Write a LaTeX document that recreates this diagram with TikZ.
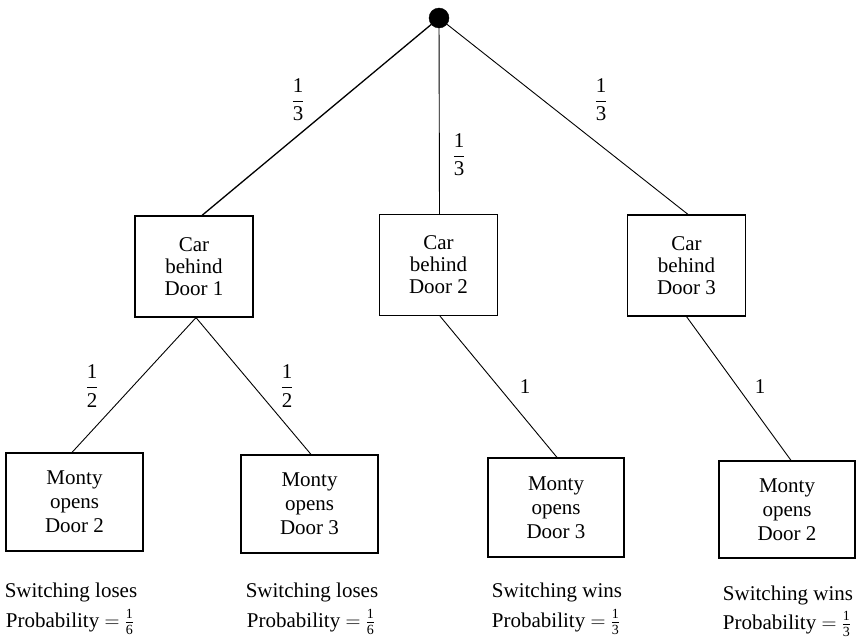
\documentclass[tikz,border=0pt]{standalone}
\usepackage{fontspec}
\setmainfont{Liberation Serif}
\newfontfamily\tms{Liberation Serif}
\newcommand\bigfr[2]{$\displaystyle\frac{\mbox{\tms #1}}{\mbox{\tms #2}}$}
\newcommand\smfr[2]{\ensuremath{\frac{\mbox{\tms\fontsize{14}{14}\selectfont #1}}{\mbox{\tms\fontsize{14}{14}\selectfont #2}}}}
\begin{document}
\begin{tikzpicture}[x=1pt,y=-1pt,
  every node/.style={font=\tms\fontsize{21}{22}\selectfont},
  carbox/.style={draw,line width=1.2pt,minimum width=118pt,minimum height=101pt,inner sep=0pt,align=center,font=\tms\fontsize{21}{22}\selectfont},
  montybox/.style={draw,line width=1.2pt,minimum width=137pt,minimum height=98pt,inner sep=0pt,align=center,font=\tms\fontsize{21}{24}\selectfont},
  edge/.style={line width=0.9pt},
  lbl/.style={inner sep=0pt},
  res/.style={anchor=base,inner sep=0pt}]
\useasboundingbox (0,0) rectangle (856,640);
\node[circle,fill=black,draw=black,minimum size=20pt,inner sep=0pt] (root) at (439,18) {};
\node[carbox] (c1) at (194,266.5) {Car\\behind\\Door 1};
\node[carbox] (c2) at (438.5,265) {Car\\behind\\Door 2};
\node[carbox] (c3) at (686.5,265.5) {Car\\behind\\Door 3};
\node[montybox] (m1) at (74.5,502) {Monty\\opens\\Door 2};
\node[montybox] (m2) at (309.5,504) {Monty\\opens\\Door 3};
\node[montybox,minimum width=136pt,minimum height=99pt] (m3) at (556,507.5) {Monty\\opens\\Door 3};
\node[montybox,minimum width=136pt,minimum height=97pt] (m4) at (787,509.5) {Monty\\opens\\Door 2};
\draw[edge,line width=1.3pt] (root) -- ([xshift=8pt]c1.north);
\draw[edge] (root) -- ([xshift=1pt]c2.north);
\draw[edge] (root) -- ([xshift=1.5pt]c3.north);
\draw[edge] ([xshift=2pt]c1.south) -- ([xshift=-2.5pt]m1.north);
\draw[edge] ([xshift=2pt]c1.south) -- ([xshift=1.5pt]m2.north);
\draw[edge] ([xshift=1.5pt]c2.south) -- ([xshift=1pt]m3.north);
\draw[edge] (c3.south) -- ([xshift=4pt]m4.north);
\node[lbl] (l1) at (298,100) {\bigfr{1}{3}};
\node[lbl] (l2) at (459,155) {\bigfr{1}{3}};
\node[lbl] (l3) at (601,100) {\bigfr{1}{3}};
\node[lbl] (l4) at (92,386) {\bigfr{1}{2}};
\node[lbl] (l5) at (287,386) {\bigfr{1}{2}};
\node[lbl] (l6) at (525,387) {1};
\node[lbl] (l7) at (760,387) {1};
\node[res] (s1) at (71,597) {Switching loses};
\node[res] (p1) at (70,627) {Probability $=$ \smfr{1}{6}};
\node[res] (s2) at (312,597) {Switching loses};
\node[res] (p2) at (311,627) {Probability $=$ \smfr{1}{6}};
\node[res] (s3) at (557,597) {Switching wins};
\node[res] (p3) at (556,627) {Probability $=$ \smfr{1}{3}};
\node[res] (s4) at (788,600) {Switching wins};
\node[res] (p4) at (787,629) {Probability $=$ \smfr{1}{3}};
\end{tikzpicture}
\end{document}
